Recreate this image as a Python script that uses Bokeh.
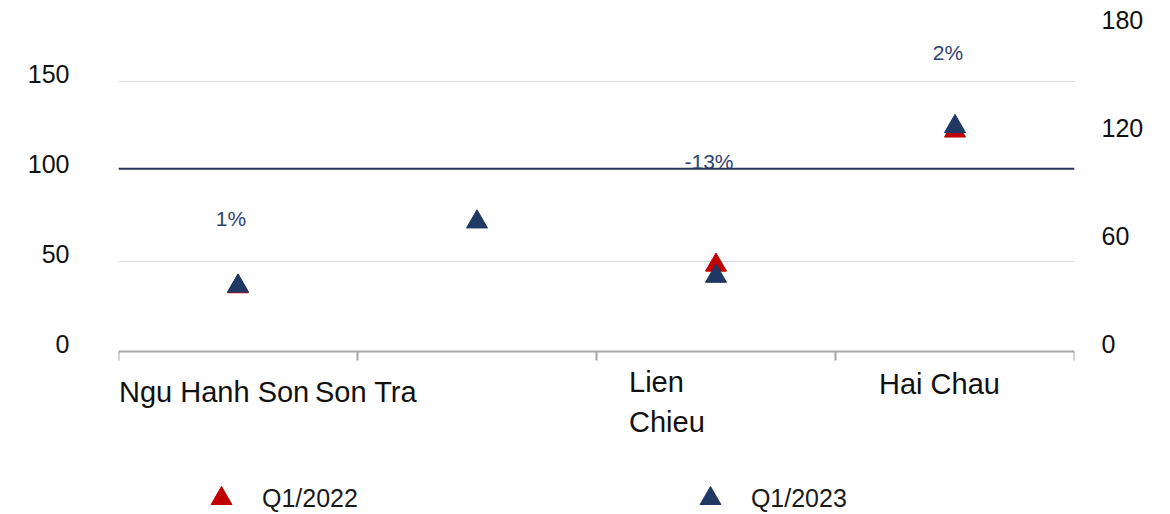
import math

from bokeh.core.properties import value
from bokeh.embed import file_html
from bokeh.models import (ColumnDataSource, FixedTicker, Label, Legend,
                          LegendItem, LinearAxis, Range1d, Span)
from bokeh.plotting import figure
from bokeh.resources import INLINE

# District index values
categories = ["Ngu Hanh Son", "Son Tra", "Lien Chieu", "Hai Chau"]
q1_2022 = [36.0, float("nan"), 48.0, 122.5]
q1_2023 = [36.4, 72.0, 41.8, 125.0]

left_ticks = [0, 50, 100, 150]
right_ticks = [0, 60, 120, 180]
grid_levels = [50, 150]
reference_level = 101.5

# Layout of the annotation texts
pct_label_y = [74, None, 105.5, 166]
cat_label_lines = [["Ngu Hanh Son"], ["Son Tra"], ["Lien", "Chieu"], ["Hai Chau"]]
cat_label_shift = [-119, -162, -87, -76]
cat_label_drop = [-41, -41, -31, -33]

RED = "#c00000"
NAVY = "#1f3864"
FONT = "Liberation Sans"

Y_LO, Y_HI = -90.56, 184.44
TICK_LIFT = 4.4   # tick numbers sit just above their level

xs = [i + 0.5 for i in range(len(categories))]

# The frame runs to the bottom of the canvas so that the category names and
# the legend below the zero line are not clipped away.
p = figure(width=1170, height=514, output_backend="svg", toolbar_location=None,
           x_range=Range1d(0, len(categories)), y_range=Range1d(Y_LO, Y_HI),
           x_axis_location="above", y_axis_location=None,
           min_border_left=118, min_border_right=96, min_border_top=19,
           min_border_bottom=0, outline_line_color=None,
           background_fill_color="white", border_fill_color="white")
p.extra_y_ranges = {"ticks": Range1d(Y_LO - TICK_LIFT, Y_HI - TICK_LIFT)}

# Category axis drawn along the zero line, tick marks pointing down
p.xaxis.fixed_location = 0
p.xaxis.ticker = FixedTicker(ticks=list(range(len(categories) + 1)))
p.xaxis.axis_line_color = "#a6a6a6"
p.xaxis.axis_line_width = 2
p.xaxis.major_tick_line_color = "#a6a6a6"
p.xaxis.major_tick_line_width = 2
p.xaxis.major_tick_out = 0
p.xaxis.major_tick_in = 9
p.xaxis.minor_tick_line_color = None
p.xaxis.major_label_overrides = {i: "" for i in range(len(categories) + 1)}
p.xaxis.major_label_standoff = 0


def value_axis(ticks, standoff):
    ax = LinearAxis(y_range_name="ticks", ticker=FixedTicker(ticks=ticks))
    ax.axis_line_color = None
    ax.major_tick_line_color = None
    ax.minor_tick_line_color = None
    ax.major_label_standoff = standoff
    ax.major_label_text_font = FONT
    ax.major_label_text_font_size = "25px"
    ax.major_label_text_color = "#111111"
    return ax


p.add_layout(value_axis(left_ticks, 43), "left")
p.add_layout(value_axis(right_ticks, 21), "right")

p.xgrid.grid_line_color = None
p.ygrid.ticker = FixedTicker(ticks=grid_levels)
p.ygrid.grid_line_color = "#d9d9d9"
p.ygrid.grid_line_width = 1

p.add_layout(Span(location=reference_level, dimension="width",
                  line_color="#26365a", line_width=2))

# Markers
src = ColumnDataSource(dict(x=xs, a=q1_2022, b=q1_2023))
r22 = p.scatter("x", "a", source=src, marker="triangle", size=21,
                fill_color=RED, line_color=RED)
r23 = p.scatter("x", "b", source=src, marker="triangle", size=21,
                fill_color=NAVY, line_color=NAVY)

# Percentage change labels
px, py, pt = [], [], []
for x, a, b, ly in zip(xs, q1_2022, q1_2023, pct_label_y):
    if ly is None or math.isnan(a):
        continue
    px.append(x)
    py.append(ly)
    pt.append(f"{round((b / a - 1) * 100):.0f}%")
p.text(x="x", y="y", text="t", source=ColumnDataSource(dict(x=px, y=py, t=pt)),
       text_font=value(FONT), text_font_size="21px", text_color="#2e4372",
       text_align="center", text_baseline="middle", x_offset=-7)

# Category names under the axis
for x, lines, shift, drop in zip(xs, cat_label_lines, cat_label_shift, cat_label_drop):
    for k, line in enumerate(lines):
        p.add_layout(Label(x=x, y=0, x_offset=shift, y_offset=drop - 40 * k,
                           text=line, text_font=FONT, text_font_size="29px",
                           text_color="#111111", text_align="left",
                           text_baseline="alphabetic"))

legend = Legend(items=[LegendItem(label="Q1/2022", renderers=[r22]),
                       LegendItem(label="Q1/2023", renderers=[r23])],
                orientation="horizontal", location=(77, -10),
                glyph_width=52, glyph_height=52, label_standoff=15,
                spacing=326, padding=0, margin=0,
                border_line_color=None, background_fill_alpha=0,
                label_text_font=FONT, label_text_font_size="25px",
                label_text_color="#1a1a1a")
p.add_layout(legend, "center")

open("out.html", "w").write(file_html(p, INLINE))
